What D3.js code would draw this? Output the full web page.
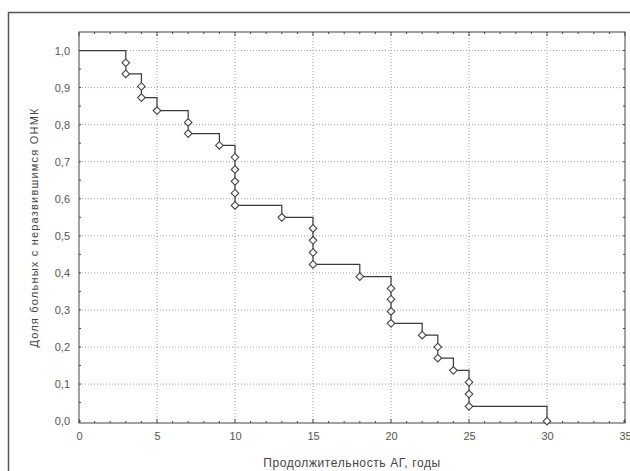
<!DOCTYPE html>
<html>
<head>
<meta charset="utf-8">
<script src="https://cdn.jsdelivr.net/npm/d3@7"></script>
<style>
  body { margin: 0; background: #fff; }
  svg { display: block; font-family: "Liberation Sans", Arial, sans-serif; }
</style>
</head>
<body>
<svg id="svg" width="630" height="471"></svg>
<script>
// event times (years) and survival after each event
var eventTimes = [3,3,4,4,5,7,7,9,10,10,10,10,10,13,15,15,15,15,18,20,20,20,20,22,23,23,24,25,25,25,30];
var survival = [0.967,0.937,0.903,0.873,0.838,0.806,0.776,0.744,0.712,0.679,0.647,0.615,0.582,0.55,
                0.52,0.488,0.455,0.423,0.39,0.358,0.329,0.296,0.264,0.232,0.2,0.17,0.137,0.105,0.073,0.04,0.0];
var xTicks = [0,5,10,15,20,25,30,35];
var yTicks = [0,0.1,0.2,0.3,0.4,0.5,0.6,0.7,0.8,0.9,1.0];
var xTitle = "Продолжительность АГ, годы";
var yTitle = "Доля больных с неразвившимся ОНМК";

var svg = d3.select("#svg");
// plot box (window.top is reserved, so no "top" name here)
var pLeft = 79, pRight = 625, pTop = 32, pBottom = 423;

var x = d3.scaleLinear().domain([0, 35]).range([pLeft, pRight]);
var y = d3.scaleLinear().domain([-0.005, 1.05]).range([pBottom, pTop]);

var ru = d3.formatLocale({decimal: ",", thousands: " ", grouping: [3], currency: ["", ""]});
var fmt = ru.format(".1f");

// outer frame
svg.append("path")
    .attr("d", "M8.5,471 V12.5 H630")
    .attr("fill", "none")
    .attr("stroke", "#555")
    .attr("stroke-width", 1.5);

// grid
var grid = svg.append("g");
grid.selectAll("line.v").data(xTicks.filter(function(d){return d > 0 && d < 35;})).enter()
    .append("line")
    .attr("x1", function(d){return x(d);}).attr("x2", function(d){return x(d);})
    .attr("y1", pTop).attr("y2", pBottom)
    .attr("stroke", "#a0a0a0").attr("stroke-dasharray", "1,2");
grid.selectAll("line.h").data(yTicks.filter(function(d){return d > 0;})).enter()
    .append("line")
    .attr("x1", pLeft).attr("x2", pRight)
    .attr("y1", function(d){return y(d);}).attr("y2", function(d){return y(d);})
    .attr("stroke", "#a0a0a0").attr("stroke-dasharray", "1,2");

// minor ticks along the frame
var minorX = d3.range(0, 36, 1);
var minorY = d3.range(0, 1.05, 0.05);
var ticks = svg.append("g").attr("stroke", "#444");
ticks.selectAll("line.bx").data(minorX).enter().append("line")
    .attr("x1", function(d){return x(d);}).attr("x2", function(d){return x(d);})
    .attr("y1", pBottom).attr("y2", function(d){return pBottom - (d % 5 === 0 ? 4 : 2);});
ticks.selectAll("line.tx").data(minorX).enter().append("line")
    .attr("x1", function(d){return x(d);}).attr("x2", function(d){return x(d);})
    .attr("y1", pTop).attr("y2", function(d){return pTop + (d % 5 === 0 ? 4 : 2);});
ticks.selectAll("line.ly").data(minorY).enter().append("line")
    .attr("x1", pLeft).attr("x2", pLeft + 2)
    .attr("y1", function(d){return y(d);}).attr("y2", function(d){return y(d);});
ticks.selectAll("line.ry").data(minorY).enter().append("line")
    .attr("x1", pRight).attr("x2", pRight - 2)
    .attr("y1", function(d){return y(d);}).attr("y2", function(d){return y(d);});

// plot frame
svg.append("rect")
    .attr("x", pLeft).attr("y", pTop)
    .attr("width", pRight - pLeft).attr("height", pBottom - pTop)
    .attr("fill", "none").attr("stroke", "#444").attr("stroke-width", 1);

// axes labels
var xAxis = svg.append("g")
    .attr("transform", "translate(0," + pBottom + ")")
    .call(d3.axisBottom(x).tickValues(xTicks).tickSize(0).tickPadding(9).tickFormat(d3.format("d")));
var yAxis = svg.append("g")
    .attr("transform", "translate(" + pLeft + ",0)")
    .call(d3.axisLeft(y).tickValues(yTicks).tickSize(0).tickPadding(9).tickFormat(fmt));
[xAxis, yAxis].forEach(function(a){
    a.select(".domain").remove();
    a.selectAll("text").attr("fill", "#555").style("font-size", "11px")
        .style("font-family", "'Liberation Sans', Arial, sans-serif");
});

// titles
svg.append("text")
    .attr("x", (pLeft + pRight) / 2).attr("y", 467)
    .attr("text-anchor", "middle")
    .attr("fill", "#444").style("font-size", "12px")
    .style("letter-spacing", "0.6px")
    .text(xTitle);
svg.append("text")
    .attr("transform", "translate(38," + ((pTop + pBottom) / 2) + ") rotate(-90)")
    .attr("text-anchor", "middle")
    .attr("fill", "#444").style("font-size", "11px")
    .style("letter-spacing", "1.2px")
    .text(yTitle);

// survival step curve
var pts = [[0, 1]].concat(eventTimes.map(function(t, i){return [t, survival[i]];}));
var line = d3.line()
    .x(function(d){return x(d[0]);})
    .y(function(d){return y(d[1]);})
    .curve(d3.curveStepAfter);
svg.append("path")
    .datum(pts)
    .attr("d", line)
    .attr("fill", "none")
    .attr("stroke", "#3a3a3a")
    .attr("stroke-width", 1.2);

// diamond markers
svg.selectAll("path.mark").data(eventTimes).enter()
    .append("path")
    .attr("class", "mark")
    .attr("transform", function(d, i){return "translate(" + x(d) + "," + y(survival[i]) + ")";})
    .attr("d", "M0,-3.8 L3.8,0 L0,3.8 L-3.8,0 Z")
    .attr("fill", "#fff")
    .attr("stroke", "#444")
    .attr("stroke-width", 1.1);
</script>
</body>
</html>
